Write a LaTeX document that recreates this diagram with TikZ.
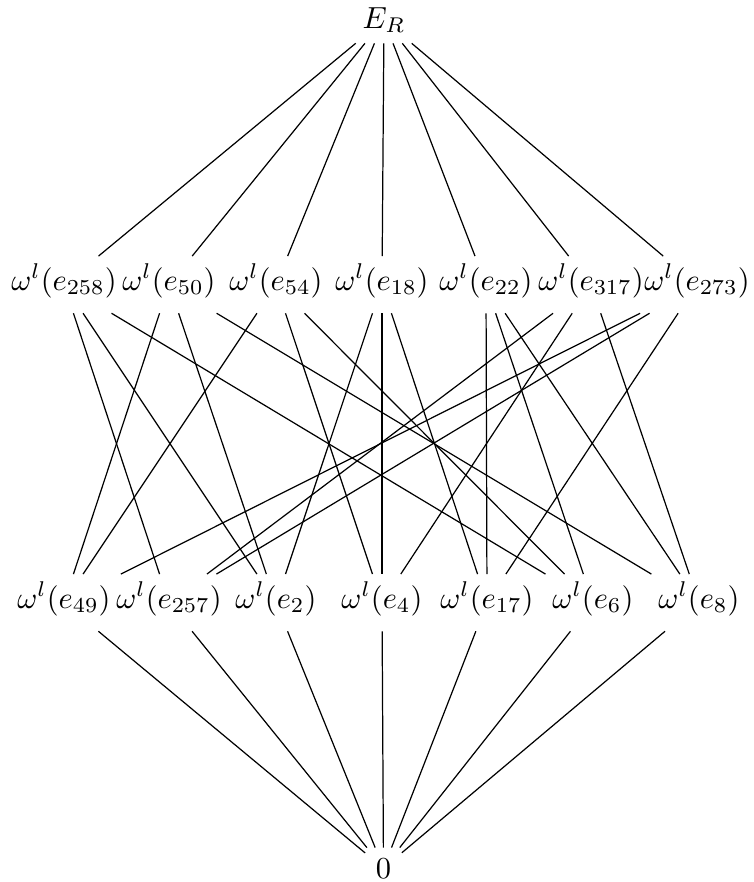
\documentclass[tikz,border=0pt]{standalone}
\begin{document}
\begin{tikzpicture}[x=0.328pt,y=-0.328pt,
  lbl/.style={anchor=base, inner sep=3.33pt},
  wlbl/.style={lbl, text height=7.6pt, text depth=4.1pt},
  hasse/.style={draw=black, line width=0.4pt}]
\useasboundingbox (0,0) rectangle (754,882);
% top
\node[lbl] (top) at (384,28) {$E_R$};
% middle row
\node[wlbl] (m1) at (64,290)  {$\omega^l(e_{258})$};
\node[wlbl] (m2) at (169,290) {$\omega^l(e_{50})$};
\node[wlbl] (m3) at (276,290) {$\omega^l(e_{54})$};
\node[wlbl] (m4) at (382,290) {$\omega^l(e_{18})$};
\node[wlbl] (m5) at (486,290) {$\omega^l(e_{22})$};
\node[wlbl] (m6) at (591,290) {$\omega^l(e_{317})$};
\node[wlbl] (m7) at (697,290) {$\omega^l(e_{273})$};
% bottom row
\node[wlbl] (b1) at (64,608)  {$\omega^l(e_{49})$};
\node[wlbl] (b2) at (169,608) {$\omega^l(e_{257})$};
\node[wlbl] (b3) at (276,608) {$\omega^l(e_{2})$};
\node[wlbl] (b4) at (382,608) {$\omega^l(e_{4})$};
\node[wlbl] (b5) at (487,608) {$\omega^l(e_{17})$};
\node[wlbl] (b6) at (593,608) {$\omega^l(e_{6})$};
\node[wlbl] (b7) at (699,608) {$\omega^l(e_{8})$};
% bottom element
\node[lbl] (bot) at (383.5,878) {$0$};
% edges top
\foreach \m in {m1,m2,m3,m4,m5,m6,m7} \draw[hasse] (top) -- (\m);
% edges bottom
\foreach \b in {b1,b2,b3,b4,b5,b6,b7} \draw[hasse] (\b) -- (bot);
% middle to bottom
\draw[hasse] (m1) -- (b2); \draw[hasse] (m1) -- (b3); \draw[hasse] (m1) -- (b6);
\draw[hasse] (m2) -- (b1); \draw[hasse] (m2) -- (b3); \draw[hasse] (m2) -- (b7);
\draw[hasse] (m3) -- (b1); \draw[hasse] (m3) -- (b4); \draw[hasse] (m3) -- (b6);
\draw[hasse] (m4) -- (b3); \draw[hasse] (m4) -- (b4); \draw[hasse] (m4) -- (b5);
\draw[hasse] (m5) -- (b5); \draw[hasse] (m5) -- (b6); \draw[hasse] (m5) -- (b7);
\draw[hasse] (m6) -- (b2); \draw[hasse] (m6) -- (b4); \draw[hasse] (m6) -- (b7);
\draw[hasse] (m7) -- (b1); \draw[hasse] (m7) -- (b2); \draw[hasse] (m7) -- (b5);
\end{tikzpicture}
\end{document}
